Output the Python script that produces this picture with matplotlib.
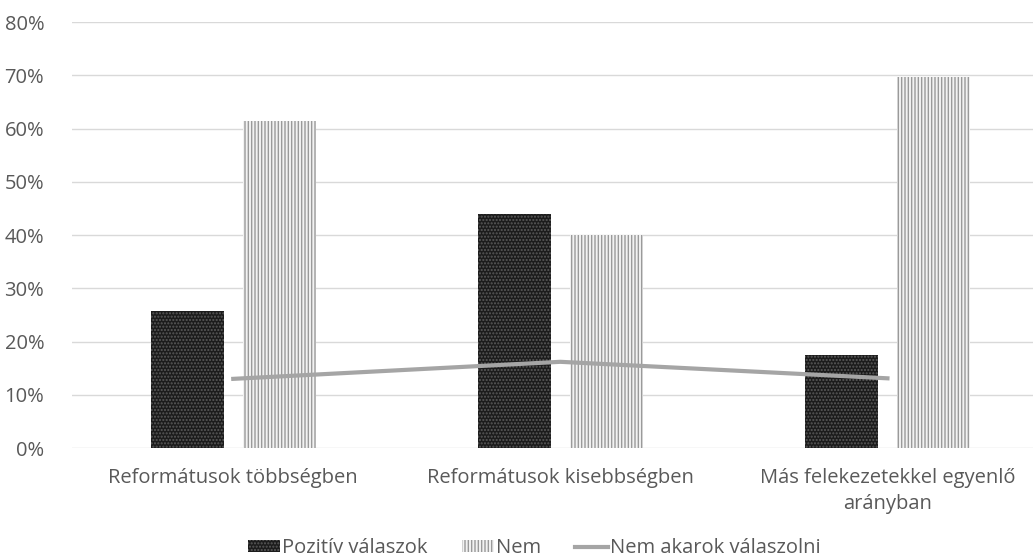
import matplotlib.pyplot as plt
import numpy as np

plt.rcParams['font.family'] = ['Open Sans', 'DejaVu Sans']
plt.rcParams['hatch.linewidth'] = 1.0

categories = ['Reformátusok többségben', 'Reformátusok kisebbségben',
              'Más felekezetekkel egyenlő\narányban']
pozitiv = [0.258, 0.44, 0.175]
nem = [0.614, 0.40, 0.697]
nem_akarok = [0.13, 0.162, 0.131]
y_ticks = [0, 0.1, 0.2, 0.3, 0.4, 0.5, 0.6, 0.7, 0.8]
y_labels = ['0%', '10%', '20%', '30%', '40%', '50%', '60%', '70%', '80%']

text_color = '#595959'
x = np.arange(len(categories))
width = 0.223

fig = plt.figure(figsize=(10.33, 5.58), dpi=100)
ax = fig.add_axes([0.0697, 0.197, 0.9303, 0.7634])

b1 = ax.bar(x - 0.141, pozitiv, width, color='#1c1c1c', edgecolor='#5a5a5a', hatch='.....',
            linewidth=0, label='Pozitív válaszok', zorder=2)
b2 = ax.bar(x + 0.141, nem, width, color='#f2f2f2', edgecolor='#9a9a9a', hatch='|||||',
            linewidth=0, label='Nem', zorder=2)
l1, = ax.plot(x, nem_akarok, color='#a5a5a5', linewidth=3, label='Nem akarok válaszolni', zorder=3)

ax.set_xlim(-0.493, 2.445)
ax.set_ylim(0, 0.8)
ax.set_yticks(y_ticks)
ax.set_yticklabels(y_labels)
ax.set_xticks(x)
ax.set_xticklabels(categories, linespacing=1.45)
ax.grid(axis='y', color='#d9d9d9', linewidth=1, zorder=0)
for s in ax.spines.values():
    s.set_visible(False)
ax.tick_params(axis='x', length=0, labelsize=14.5, colors=text_color, pad=14)
ax.tick_params(axis='y', length=0, labelsize=14.5, colors=text_color, pad=20)

fig.legend(handles=[b1, b2, l1], loc='center', bbox_to_anchor=(0.517, 0.018), ncol=3,
           frameon=False, fontsize=14.5, labelcolor=text_color, handlelength=1.6,
           handleheight=0.5, handletextpad=0.1, columnspacing=1.7, borderpad=0)

fig.savefig('out.png', dpi=100)
